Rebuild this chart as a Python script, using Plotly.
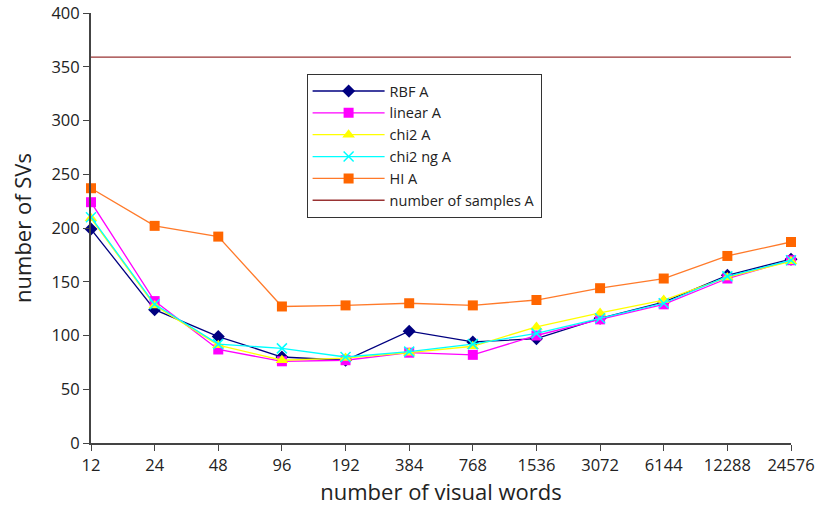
import plotly.graph_objects as go

categories = ["12", "24", "48", "96", "192", "384", "768", "1536", "3072", "6144", "12288", "24576"]
rbf = [199, 124, 99, 80, 77, 104, 94, 97, 116, 131, 156, 171]
linear = [224, 132, 87, 76, 77, 84, 82, 100, 115, 129, 153, 170]
chi2 = [209, 128, 91, 77, 79, 84, 90, 108, 121, 133, 154, 169]
chi2ng = [210, 129, 92, 88, 80, 85, 92, 102, 116, 130, 155, 170]
hi = [237, 202, 192, 127, 128, 130, 128, 133, 144, 153, 174, 187]
samples = [359] * 12

fig = go.Figure()
x = list(range(len(categories)))

def add(name, y, color, symbol, size, width=1.3, mode="lines+markers", lc=None):
    fig.add_trace(go.Scatter(
        x=x, y=y, name=name, mode=mode,
        line=dict(color=lc or color, width=width),
        marker=dict(color=color, symbol=symbol, size=size,
                    line=dict(color=color, width=1.5 if "x" in symbol else 0)),
    ))

add("RBF A", rbf, "#000080", "diamond", 10)
add("linear A", linear, "#FF00FF", "square", 10)
add("chi2 A", chi2, "#FFFF00", "triangle-up", 11)
add("chi2 ng A", chi2ng, "#00FFFF", "x-thin", 10)
add("HI A", hi, "#FF6600", "square", 10, lc="#FF7A2A")
fig.add_trace(go.Scatter(x=x, y=samples, name="number of samples A", mode="lines",
                         line=dict(color="#993333", width=1.3)))

font = "Open Sans, Noto Sans, sans-serif"
fig.update_layout(
    width=821, height=513,
    margin=dict(l=91, r=30, t=13, b=70),
    paper_bgcolor="white", plot_bgcolor="white",
    font=dict(family=font, size=16, color="#222"),
    showlegend=True,
    legend=dict(x=0.308, y=0.858, xanchor="left", yanchor="top",
                bordercolor="#333", borderwidth=1, bgcolor="white",
                font=dict(size=14.5, family=font), tracegroupgap=0,
                itemwidth=72),
    xaxis=dict(
        tickmode="array", tickvals=x, ticktext=categories, automargin=False,
        range=[0, 11], showline=True, linecolor="#444", linewidth=2,
        ticks="outside", ticklen=6, tickcolor="#444", showgrid=False,
        zeroline=False, tickfont=dict(size=16.5),
        title=dict(text="number of visual words", font=dict(size=22), standoff=10),
    ),
    yaxis=dict(
        range=[0, 400], dtick=50, showline=True, linecolor="#444", linewidth=2,
        ticks="outside", ticklen=6, tickcolor="#444", showgrid=False, automargin=False,
        zeroline=False, tickfont=dict(size=16.5),
        title=dict(text="number of SVs", font=dict(size=22), standoff=14),
    ),
)
fig.update_traces(cliponaxis=False)
fig.write_html("out.html")
